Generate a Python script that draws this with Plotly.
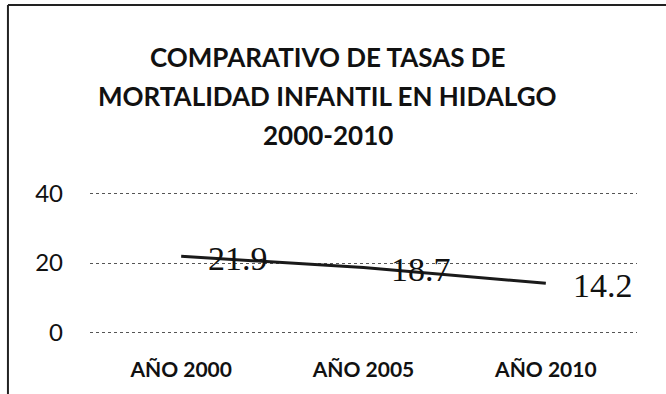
import plotly.graph_objects as go

# Infant mortality rate in Hidalgo, by year
categorias = ["AÑO 2000", "AÑO 2005", "AÑO 2010"]
tasas = [21.9, 18.7, 14.2]
titulo = ["COMPARATIVO DE TASAS DE", "MORTALIDAD INFANTIL EN HIDALGO", "2000-2010"]
y_ticks = [0, 20, 40]

fig = go.Figure()
fig.add_trace(go.Scatter(
    x=categorias, y=tasas, mode="lines",
    line=dict(color="#1a1a1a", width=3),
    showlegend=False, hoverinfo="skip",
))

# value labels set to the right of each point
for cat, val in zip(categorias, tasas):
    fig.add_annotation(
        x=cat, y=val, text=f"{val:.1f}", showarrow=False,
        xanchor="left", yanchor="middle", xshift=25, yshift=-2,
        font=dict(family="Liberation Serif", size=34, color="#111111"),
    )

# three-line chart title
title_y = [1.931, 1.660, 1.389]
for line, yy in zip(titulo, title_y):
    fig.add_annotation(
        xref="paper", yref="paper", x=0.435, y=yy, text=f"<b>{line}</b>",
        showarrow=False, xanchor="center", yanchor="middle",
        font=dict(family="Lato", size=26, color="#111111"),
    )

# chart frame: top and left edges
fig.add_shape(type="line", xref="paper", yref="paper",
              x0=-0.15, x1=1.06, y0=2.292, y1=2.292,
              line=dict(color="#222222", width=2))
fig.add_shape(type="line", xref="paper", yref="paper",
              x0=-0.15, x1=-0.15, y0=2.292, y1=-0.45,
              line=dict(color="#222222", width=2))

fig.update_layout(
    width=666, height=394,
    margin=dict(l=90, r=29, t=191, b=59),
    paper_bgcolor="white", plot_bgcolor="white",
    xaxis=dict(
        type="category", range=[-0.5, 2.5], showgrid=False, zeroline=False,
        showline=False, ticks="", ticklabelstandoff=20,
        tickfont=dict(family="Lato", size=21, color="#111111"),
        tickprefix="<b>", ticksuffix="</b>",
    ),
    yaxis=dict(
        range=[-0.6, 40.6], tickvals=y_ticks, showgrid=True, gridcolor="#555555",
        griddash="dot", gridwidth=1, zeroline=False, showline=False,
        ticks="", ticklabelstandoff=26,
        tickfont=dict(family="Lato", size=24, color="#111111"),
    ),
)

fig.write_html("out.html")
